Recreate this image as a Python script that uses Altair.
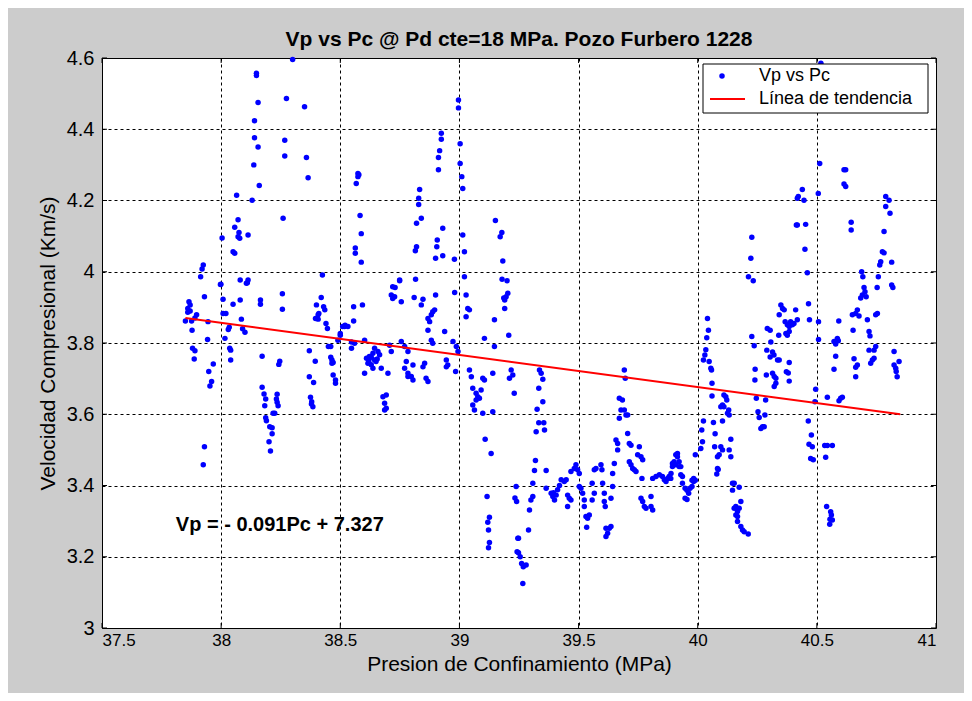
import altair as alt
import pandas as pd

# ---------------- text ----------------
TITLE = "Vp vs Pc @ Pd cte=18 MPa. Pozo Furbero 1228"
X_TITLE = "Presion de Confinamiento (MPa)"
Y_TITLE = "Velocidad Compresional (Km/s)"
EQUATION = "Vp = - 0.091Pc + 7.327"
LEGEND_LABELS = ["Vp vs Pc", "Línea de tendencia"]

# ---------------- axes ----------------
x_ticks = [37.5, 38, 38.5, 39, 39.5, 40, 40.5, 41]
y_ticks = [3, 3.2, 3.4, 3.6, 3.8, 4, 4.2, 4.4, 4.6]

# ---------------- trend line ----------------
trend_pc = [37.85, 40.85]
trend_vp = [3.87, 3.60]

# equation label anchor (data units)
eq_pc = [37.81]
eq_vp = [3.29]

# ---------------- scatter data (Pc MPa, Vp km/s) ----------------
c_a = [(37.865, 3.916), (37.87, 3.907), (37.86, 3.897), (37.86, 3.886), (37.85, 3.862), (37.876, 3.862),
       (37.897, 3.879), (37.93, 3.93), (37.945, 3.86), (37.878, 3.836), (37.943, 3.81), (37.88, 3.785),
       (37.89, 3.778), (37.887, 3.755), (37.967, 3.741), (37.948, 3.72), (37.96, 3.692), (37.953, 3.679),
       (37.93, 3.509), (37.925, 3.458), (37.925, 4.019), (37.92, 4.008), (37.914, 3.986), (37.997, 3.964),
       (37.999, 3.965), (37.89, 3.87), (37.87, 3.89)]
c_b = [(38.08, 3.977), (38.11, 3.969), (38.008, 3.923), (38.008, 3.883), (38.02, 3.883), (38.05, 3.909),
       (38.08, 3.921), (38.034, 3.844), (38.03, 3.838), (38.016, 3.813), (38.085, 3.867), (38.09, 3.84),
       (38.1, 3.83), (38.036, 3.785), (38.04, 3.78), (38.04, 3.752), (38.065, 4.215), (38.071, 4.146),
       (38.057, 4.125), (38.075, 4.11), (38.071, 4.098), (38.078, 4.094), (38.113, 4.103), (38.004, 4.095),
       (38.05, 4.056), (38.057, 4.052), (38.106, 3.968), (38.113, 3.977)]
c_c = [(38.3, 4.596), (38.148, 4.557), (38.148, 4.551), (38.155, 4.475), (38.274, 4.486), (38.35, 4.463),
       (38.14, 4.424), (38.14, 4.376), (38.155, 4.35), (38.267, 4.369), (38.267, 4.325), (38.358, 4.321),
       (38.137, 4.3), (38.365, 4.264), (38.16, 4.242), (38.13, 4.201), (38.26, 4.15), (38.425, 3.991)]
c_d = [(38.165, 3.921), (38.165, 3.909), (38.257, 3.938), (38.257, 3.895), (38.172, 3.763), (38.246, 3.749),
       (38.242, 3.74), (38.172, 3.676), (38.18, 3.657), (38.187, 3.643), (38.183, 3.624), (38.235, 3.656),
       (38.232, 3.643), (38.235, 3.634), (38.239, 3.624), (38.225, 3.603), (38.218, 3.603), (38.187, 3.59),
       (38.19, 3.582), (38.204, 3.565), (38.214, 3.562), (38.214, 3.545), (38.201, 3.523), (38.207, 3.497)]
c_e = [(38.4, 3.907), (38.42, 3.928), (38.43, 3.902), (38.435, 3.893), (38.41, 3.883), (38.407, 3.879),
       (38.396, 3.869), (38.407, 3.867), (38.44, 3.855), (38.446, 3.841), (38.45, 3.79), (38.46, 3.79),
       (38.51, 3.846), (38.49, 3.808), (38.37, 3.778), (38.395, 3.749), (38.37, 3.705), (38.388, 3.689),
       (38.375, 3.648), (38.38, 3.635), (38.385, 3.621), (38.379, 3.629), (38.46, 3.76), (38.465, 3.752),
       (38.47, 3.745), (38.465, 3.743), (38.47, 3.71), (38.48, 3.687), (38.48, 3.696), (38.52, 3.85),
       (38.5, 3.822), (38.5, 3.827)]
c_f = [(38.574, 4.276), (38.574, 4.267), (38.567, 4.248), (38.578, 4.272), (38.583, 4.158), (38.588, 4.107),
       (38.563, 4.067), (38.563, 4.052), (38.588, 4.027), (38.556, 3.902), (38.593, 3.907), (38.556, 3.862),
       (38.518, 3.846), (38.532, 3.846), (38.547, 3.803), (38.547, 3.785), (38.56, 3.799), (38.602, 3.808)]
c_g = [(38.61, 3.757), (38.622, 3.762), (38.637, 3.771), (38.644, 3.785), (38.658, 3.776), (38.665, 3.767),
       (38.616, 3.743), (38.63, 3.739), (38.637, 3.729), (38.602, 3.715), (38.65, 3.748), (38.672, 3.729),
       (38.644, 3.752), (38.7, 3.715), (38.679, 3.649), (38.693, 3.654), (38.686, 3.631), (38.693, 3.617),
       (38.686, 3.612), (38.707, 3.794), (38.714, 3.776), (38.63, 3.76), (38.62, 3.75), (38.655, 3.755)]
c_h = [(38.72, 3.958), (38.749, 3.977), (38.714, 3.935), (38.72, 3.925), (38.728, 3.93), (38.756, 3.916),
       (38.81, 3.928), (38.847, 3.923), (38.84, 3.907), (38.749, 3.975), (38.73, 3.956), (38.816, 3.979),
       (38.756, 3.804), (38.77, 3.79), (38.784, 3.776), (38.777, 3.748), (38.77, 3.729), (38.784, 3.715),
       (38.798, 3.706), (38.805, 3.696), (38.784, 3.706), (38.805, 3.738), (38.847, 3.733), (38.854, 3.743),
       (38.86, 3.701), (38.868, 3.692)]
c_i = [(38.833, 4.231), (38.829, 4.206), (38.829, 4.189), (38.84, 4.15), (38.82, 4.136), (38.82, 4.07),
       (38.815, 4.059), (38.924, 4.389), (38.924, 4.372), (38.917, 4.34), (38.912, 4.321), (38.912, 4.286),
       (38.93, 4.122), (38.907, 4.089), (38.905, 4.07), (38.9, 4.038), (38.93, 4.045), (38.9, 3.935),
       (38.868, 3.869), (38.875, 3.86), (38.882, 3.879), (38.888, 3.888), (38.896, 3.893), (38.868, 3.836),
       (38.882, 3.808), (38.888, 3.799), (38.938, 3.832), (38.945, 3.752), (38.951, 3.738), (38.945, 3.733)]
c_j = [(38.996, 4.482), (38.996, 4.46), (39.003, 4.359), (39.003, 4.304), (39.01, 4.267), (39.014, 4.234),
       (38.979, 4.035), (39.014, 4.103), (39.021, 4.056), (39.021, 3.986), (38.98, 3.942), (38.973, 3.804),
       (38.987, 3.79), (38.994, 3.776), (38.984, 3.72), (39.028, 3.935), (39.035, 3.897), (39.042, 3.893),
       (39.028, 3.874)]
c_k = [(39.042, 3.724), (39.05, 3.705), (39.056, 3.673), (39.07, 3.659), (39.077, 3.649), (39.084, 3.645),
       (39.07, 3.64), (39.056, 3.626), (39.063, 3.612), (39.091, 3.668), (39.098, 3.701), (39.105, 3.696),
       (39.098, 3.603), (39.14, 3.607), (39.105, 3.813), (39.147, 3.865), (39.147, 3.79), (39.14, 3.715),
       (39.108, 3.53), (39.133, 3.49), (39.116, 3.369), (39.126, 3.311), (39.119, 3.297), (39.122, 3.275),
       (39.126, 3.24), (39.122, 3.225)]
c_l = [(39.151, 4.144), (39.178, 4.11), (39.171, 4.098), (39.182, 4.03), (39.179, 3.979), (39.2, 3.975),
       (39.207, 3.822), (39.19, 3.897), (39.196, 3.93), (39.203, 3.94), (39.19, 3.921), (39.186, 3.926),
       (39.217, 3.724), (39.224, 3.71), (39.21, 3.701), (39.23, 3.659), (39.238, 3.397), (39.233, 3.365),
       (39.24, 3.355), (39.245, 3.252), (39.242, 3.214)]
c_m = [(39.248, 3.252), (39.248, 3.211), (39.255, 3.2), (39.261, 3.181), (39.268, 3.172), (39.28, 3.177),
       (39.266, 3.125), (39.336, 3.724), (39.343, 3.715), (39.35, 3.698), (39.333, 3.673), (39.35, 3.635),
       (39.326, 3.614), (39.333, 3.576), (39.354, 3.576), (39.322, 3.551), (39.357, 3.556), (39.319, 3.47),
       (39.315, 3.442), (39.364, 3.442), (39.308, 3.406), (39.308, 3.369), (39.3, 3.359), (39.294, 3.331),
       (39.29, 3.275)]
c_n = [(39.364, 3.392), (39.385, 3.378), (39.392, 3.369), (39.399, 3.359), (39.406, 3.373), (39.412, 3.388),
       (39.427, 3.416), (39.44, 3.411), (39.448, 3.416), (39.454, 3.373), (39.461, 3.364), (39.468, 3.359),
       (39.454, 3.341), (39.468, 3.439), (39.482, 3.448), (39.489, 3.458), (39.496, 3.444), (39.503, 3.434),
       (39.503, 3.397), (39.51, 3.392), (39.517, 3.378), (39.524, 3.359), (39.524, 3.341), (39.531, 3.313),
       (39.538, 3.308), (39.545, 3.317), (39.534, 3.283), (39.395, 3.38), (39.42, 3.40)]
c_o = [(39.557, 3.406), (39.566, 3.444), (39.573, 3.448), (39.594, 3.458), (39.598, 3.444), (39.557, 3.359),
       (39.566, 3.378), (39.601, 3.406), (39.608, 3.378), (39.608, 3.355), (39.612, 3.341), (39.615, 3.28),
       (39.622, 3.266), (39.629, 3.28), (39.615, 3.257), (39.636, 3.285), (39.636, 3.364), (39.643, 3.397),
       (39.643, 3.434), (39.65, 3.462), (39.657, 3.528), (39.664, 3.518), (39.664, 3.5)]
c_p = [(39.671, 3.645), (39.684, 3.64), (39.692, 3.612), (39.699, 3.598), (39.706, 3.598), (39.671, 3.589),
       (39.678, 3.612), (39.692, 3.724), (39.696, 3.701), (39.706, 3.546), (39.713, 3.518), (39.72, 3.513),
       (39.713, 3.467), (39.72, 3.458), (39.727, 3.448), (39.734, 3.444), (39.741, 3.439), (39.755, 3.509),
       (39.748, 3.486), (39.762, 3.481), (39.769, 3.472), (39.766, 3.42), (39.762, 3.364), (39.769, 3.355),
       (39.776, 3.341), (39.783, 3.336), (39.804, 3.369), (39.804, 3.341), (39.811, 3.331), (39.811, 3.42),
       (39.825, 3.425), (39.839, 3.43), (39.852, 3.425), (39.86, 3.416), (39.867, 3.411), (39.874, 3.42),
       (39.88, 3.425), (39.888, 3.434), (39.894, 3.453), (39.901, 3.467), (39.908, 3.486), (39.915, 3.49),
       (39.915, 3.481), (39.922, 3.453), (39.929, 3.43), (39.936, 3.425), (39.936, 3.406), (39.887, 3.42),
       (39.894, 3.462), (39.908, 3.458), (39.929, 3.453), (39.922, 3.467)]
c_q = [(39.947, 3.392), (39.955, 3.387), (39.962, 3.378), (39.947, 3.364), (39.955, 3.361), (39.968, 3.392),
       (39.976, 3.397), (39.976, 3.415), (39.983, 3.42), (39.99, 3.415), (39.983, 3.411), (39.99, 3.486),
       (40.013, 3.504), (40.02, 3.523), (40.017, 3.556), (40.024, 3.581), (40.041, 3.869), (40.045, 3.836),
       (40.038, 3.815), (40.034, 3.781), (40.03, 3.766), (40.024, 3.752), (40.048, 3.748), (40.055, 3.729),
       (40.058, 3.724), (40.06, 3.687), (40.06, 3.651)]
c_r = [(40.066, 3.577), (40.073, 3.545), (40.071, 3.509), (40.083, 3.481), (40.09, 3.486), (40.097, 3.509),
       (40.083, 3.448), (40.08, 3.432), (40.086, 3.445), (40.104, 3.581), (40.104, 3.5), (40.132, 3.5),
       (40.139, 3.53), (40.11, 3.654), (40.118, 3.649), (40.104, 3.626), (40.11, 3.621), (40.13, 3.612),
       (40.125, 3.603), (40.132, 3.598), (40.097, 3.621), (40.122, 3.64), (40.139, 3.481), (40.146, 3.406),
       (40.153, 3.406), (40.146, 3.387), (40.174, 3.395), (40.16, 3.341), (40.153, 3.336), (40.167, 3.327),
       (40.174, 3.336), (40.16, 3.317), (40.167, 3.313), (40.181, 3.355), (40.167, 3.299), (40.181, 3.285),
       (40.188, 3.275), (40.195, 3.27), (40.212, 3.264)]
c_s = [(40.213, 3.986), (40.223, 4.038), (40.227, 4.097), (40.233, 3.975), (40.227, 3.818), (40.237, 3.792),
       (40.241, 3.726), (40.24, 3.696), (40.246, 3.645), (40.253, 3.607), (40.258, 3.591), (40.285, 3.64),
       (40.282, 3.598), (40.265, 3.56), (40.272, 3.565), (40.279, 3.565), (40.292, 3.841), (40.304, 3.836),
       (40.307, 3.803), (40.29, 3.78), (40.314, 3.775), (40.304, 3.761), (40.32, 3.766), (40.335, 3.752),
       (40.34, 3.822), (40.288, 3.71), (40.314, 3.715), (40.321, 3.706), (40.328, 3.701), (40.321, 3.678),
       (40.328, 3.687)]
c_t = [(40.349, 3.907), (40.356, 3.897), (40.363, 3.893), (40.342, 3.879), (40.367, 3.86), (40.376, 3.851),
       (40.384, 3.846), (40.39, 3.86), (40.397, 3.851), (40.404, 3.855), (40.411, 3.893), (40.418, 3.865),
       (40.384, 3.832), (40.37, 3.827), (40.376, 3.822), (40.372, 3.719), (40.38, 3.716), (40.384, 3.745),
       (40.384, 3.693), (40.342, 3.752), (40.418, 4.206), (40.414, 4.131)]
c_u = [(40.517, 4.585), (40.512, 4.304), (40.439, 4.231), (40.422, 4.211), (40.446, 4.201), (40.506, 4.22),
       (40.418, 4.131), (40.453, 4.133), (40.45, 4.063), (40.46, 3.997), (40.465, 3.91), (40.469, 3.865),
       (40.507, 3.86), (40.507, 3.81), (40.495, 3.67), (40.492, 3.635), (40.544, 3.648), (40.464, 3.581),
       (40.477, 3.542), (40.467, 3.516), (40.481, 3.509), (40.474, 3.476), (40.485, 3.472), (40.533, 3.512),
       (40.544, 3.512), (40.565, 3.512), (40.537, 3.479), (40.541, 3.341), (40.558, 3.326), (40.561, 3.317),
       (40.555, 3.305), (40.565, 3.303), (40.554, 3.291)]
c_v = [(40.614, 4.286), (40.621, 4.286), (40.614, 4.246), (40.621, 4.239), (40.644, 4.139), (40.644, 4.117),
       (40.592, 3.862), (40.586, 3.813), (40.59, 3.806), (40.579, 3.797), (40.572, 3.804), (40.579, 3.763),
       (40.572, 3.726), (40.6, 3.645), (40.607, 3.648), (40.593, 3.638), (40.688, 4.0), (40.693, 3.986),
       (40.698, 3.956), (40.702, 3.944), (40.691, 3.935), (40.684, 3.926), (40.707, 3.93), (40.67, 3.893),
       (40.663, 3.883), (40.649, 3.879), (40.677, 3.876), (40.712, 3.865), (40.652, 3.836), (40.719, 3.832),
       (40.723, 3.82), (40.656, 3.756), (40.67, 3.738), (40.663, 3.732), (40.663, 3.705), (40.719, 3.78)]
c_w = [(40.789, 4.211), (40.803, 4.201), (40.789, 4.183), (40.807, 4.164), (40.782, 4.113), (40.775, 4.056),
       (40.782, 4.053), (40.768, 4.028), (40.764, 4.019), (40.814, 4.027), (40.758, 3.986), (40.753, 3.956),
       (40.814, 3.963), (40.819, 3.956), (40.754, 3.883), (40.747, 3.879), (40.747, 3.79), (40.74, 3.78),
       (40.824, 3.776), (40.74, 3.757), (40.733, 3.752), (40.726, 3.743), (40.824, 3.738), (40.831, 3.729),
       (40.833, 3.72), (40.837, 3.705), (40.845, 3.748)]

clusters = [c_a, c_b, c_c, c_d, c_e, c_f, c_g, c_h, c_i, c_j, c_k, c_l, c_m, c_n, c_o, c_p,
            c_q, c_r, c_s, c_t, c_u, c_v, c_w]
pairs = [p for c in clusters for p in c]
df = pd.DataFrame({"pc": [p[0] for p in pairs], "vp": [p[1] for p in pairs]})

# ---------------- layout ----------------
W, H = 834, 570
FONT = "Liberation Sans, Arial, sans-serif"
BLUE = "#0000ff"
RED = "#ff0000"

xs = alt.Scale(domain=[37.5, 41], nice=False, zero=False)
ys = alt.Scale(domain=[3, 4.6], nice=False, zero=False)

x_axis = alt.Axis(values=x_ticks, format=".1~f", title=X_TITLE, grid=True, domain=False, ticks=False,
                  labelFontSize=17, labelPadding=4, titlePadding=5)
y_axis = alt.Axis(values=y_ticks, format=".1~f", title=Y_TITLE, grid=True, domain=False, ticks=False,
                  labelFontSize=20, labelPadding=8, titlePadding=8)

points = alt.Chart(df).mark_circle(color=BLUE, size=30, opacity=1).encode(
    x=alt.X("pc:Q", scale=xs, axis=x_axis),
    y=alt.Y("vp:Q", scale=ys, axis=y_axis),
)

trend_df = pd.DataFrame({"pc": trend_pc, "vp": trend_vp})
trend = alt.Chart(trend_df).mark_line(color=RED, strokeWidth=2).encode(
    x=alt.X("pc:Q", scale=xs), y=alt.Y("vp:Q", scale=ys))

eq_df = pd.DataFrame({"pc": eq_pc, "vp": eq_vp, "t": [EQUATION]})
eq = alt.Chart(eq_df).mark_text(align="left", baseline="middle", fontSize=20, fontWeight="bold",
                                font=FONT, color="black").encode(
    x=alt.X("pc:Q", scale=xs), y=alt.Y("vp:Q", scale=ys), text="t:N")

# inward ticks like the original axes box
xt_df = pd.DataFrame({"pc": x_ticks})
yt_df = pd.DataFrame({"vp": y_ticks})
tick_b = alt.Chart(xt_df).mark_rule(color="black").encode(
    x=alt.X("pc:Q", scale=xs), y=alt.value(H), y2=alt.value(H - 5))
tick_t = alt.Chart(xt_df).mark_rule(color="black").encode(
    x=alt.X("pc:Q", scale=xs), y=alt.value(0), y2=alt.value(5))
tick_l = alt.Chart(yt_df).mark_rule(color="black").encode(
    y=alt.Y("vp:Q", scale=ys), x=alt.value(0), x2=alt.value(5))
tick_r = alt.Chart(yt_df).mark_rule(color="black").encode(
    y=alt.Y("vp:Q", scale=ys), x=alt.value(W), x2=alt.value(W - 5))

# legend box
one = pd.DataFrame({"a": [0]})
leg_box = alt.Chart(one).mark_rect(fill="white", stroke="black", strokeWidth=1).encode(
    x=alt.value(601), x2=alt.value(826), y=alt.value(6), y2=alt.value(55))
leg_dot = alt.Chart(one).mark_circle(color=BLUE, size=30, opacity=1).encode(
    x=alt.value(620), y=alt.value(18))
leg_line = alt.Chart(one).mark_rule(color=RED, strokeWidth=2).encode(
    x=alt.value(608), x2=alt.value(643), y=alt.value(41))
leg_t1 = alt.Chart(pd.DataFrame({"t": [LEGEND_LABELS[0]]})).mark_text(
    align="left", baseline="middle", fontSize=18, font=FONT, color="black").encode(
    text="t:N", x=alt.value(657), y=alt.value(18))
leg_t2 = alt.Chart(pd.DataFrame({"t": [LEGEND_LABELS[1]]})).mark_text(
    align="left", baseline="middle", fontSize=18, font=FONT, color="black").encode(
    text="t:N", x=alt.value(657), y=alt.value(41))

chart = alt.layer(points, trend, eq, tick_b, tick_t, tick_l, tick_r,
                  leg_box, leg_dot, leg_line, leg_t1, leg_t2).properties(
    width=W, height=H,
    title=alt.Title(TITLE, fontSize=21, fontWeight="bold", font=FONT, color="black",
                    anchor="middle", offset=-2),
    padding={"left": 94, "top": 50, "right": 28, "bottom": 65},
    autosize=alt.AutoSizeParams(type="none"),
).configure(background="#cccccc").configure_view(
    fill="white", stroke="black", strokeWidth=1
).configure_axis(
    labelFont=FONT, titleFont=FONT, titleFontSize=21, labelColor="black",
    titleColor="black", titleFontWeight="normal", gridColor="black", gridDash=[3, 3],
    gridOpacity=1, gridWidth=1
)

chart.save("out.html", embed_options={"renderer": "svg", "actions": False})
